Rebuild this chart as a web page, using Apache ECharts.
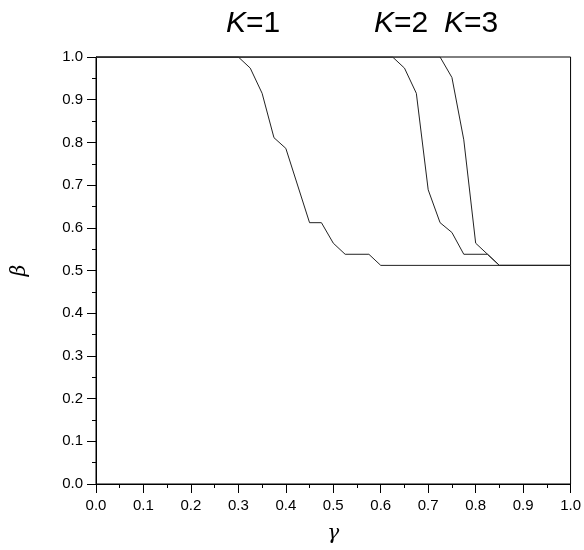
<!DOCTYPE html>
<html>
<head>
<meta charset="utf-8">
<script src="https://cdn.jsdelivr.net/npm/echarts@6/dist/echarts.min.js"></script>
<style>
  html, body { margin: 0; padding: 0; background: #fff; }
  #chart { width: 584px; height: 550px; }
</style>
</head>
<body>
<div id="chart"></div>
<script>
// data
const gammaK1 = [0, 0.3, 0.325, 0.35, 0.375, 0.4, 0.45, 0.475, 0.5, 0.525, 0.575, 0.6, 1.0]
const betaK1  = [1, 1, 0.974, 0.915, 0.811, 0.786, 0.612, 0.612, 0.564, 0.538, 0.538, 0.512, 0.512]

const gammaK2 = [0, 0.625, 0.65, 0.675, 0.7, 0.725, 0.75, 0.775, 0.825, 0.85, 1.0]
const betaK2  = [1, 1, 0.974, 0.915, 0.689, 0.612, 0.589, 0.538, 0.538, 0.512, 0.512]

const gammaK3 = [0, 0.725, 0.75, 0.775, 0.8, 0.825, 0.85, 1.0]
const betaK3  = [1, 1, 0.952, 0.806, 0.564, 0.538, 0.512, 0.512]

const curveLabels = ['1', '2', '3']

const zip = (xs, ys) => xs.map((x, i) => [x, ys[i]])

const chart = echarts.init(document.getElementById('chart'))

const axisText = { color: '#000', fontFamily: 'Liberation Sans, Arial, sans-serif', fontSize: 15 }

const lineSeries = (name, data) => ({
  name: name,
  type: 'line',
  data: data,
  symbol: 'none',
  lineStyle: { color: '#222', width: 1 },
  z: 3
})

// "K=n" captions above the curves
const kLabel = (txt, left) => ({
  type: 'text',
  left: left,
  top: 9,
  style: {
    text: '{k|K}{n|=' + txt + '}',
    rich: {
      k: { fontFamily: 'Liberation Sans, Arial', fontStyle: 'italic', fontSize: 30, fill: '#000' },
      n: { fontFamily: 'Liberation Sans, Arial', fontSize: 30, fill: '#000' }
    }
  }
})

chart.setOption({
  animation: false,
  grid: {
    left: 96, right: 13, top: 57, bottom: 66,
    show: true, borderColor: '#000', borderWidth: 1
  },
  graphic: [
    kLabel(curveLabels[0], 226),
    kLabel(curveLabels[1], 374),
    kLabel(curveLabels[2], 444)
  ],
  xAxis: {
    type: 'value',
    min: 0, max: 1, interval: 0.1,
    name: 'γ',
    nameLocation: 'middle',
    nameGap: 40,
    nameTextStyle: { fontFamily: 'DejaVu Serif', fontStyle: 'italic', fontSize: 20, color: '#000' },
    axisLine: { show: true, onZero: false, lineStyle: { color: '#000', width: 1 } },
    axisTick: { show: true, length: 9, lineStyle: { color: '#000' } },
    minorTick: { show: true, splitNumber: 2, length: 4, lineStyle: { color: '#000' } },
    splitLine: { show: false },
    axisLabel: Object.assign({ margin: 14, formatter: v => v.toFixed(1) }, axisText)
  },
  yAxis: {
    type: 'value',
    min: 0, max: 1, interval: 0.1,
    name: 'β',
    nameLocation: 'middle',
    nameGap: 66,
    nameRotate: 90,
    nameTextStyle: { fontFamily: 'DejaVu Serif', fontStyle: 'italic', fontSize: 20, color: '#000' },
    axisLine: { show: true, onZero: false, lineStyle: { color: '#000', width: 1 } },
    axisTick: { show: true, length: 9, lineStyle: { color: '#000' } },
    minorTick: { show: true, splitNumber: 2, length: 4, lineStyle: { color: '#000' } },
    splitLine: { show: false },
    axisLabel: Object.assign({ margin: 13, formatter: v => v.toFixed(1) }, axisText)
  },
  series: [
    lineSeries('K=1', zip(gammaK1, betaK1)),
    lineSeries('K=2', zip(gammaK2, betaK2)),
    lineSeries('K=3', zip(gammaK3, betaK3))
  ]
})
</script>
</body>
</html>
